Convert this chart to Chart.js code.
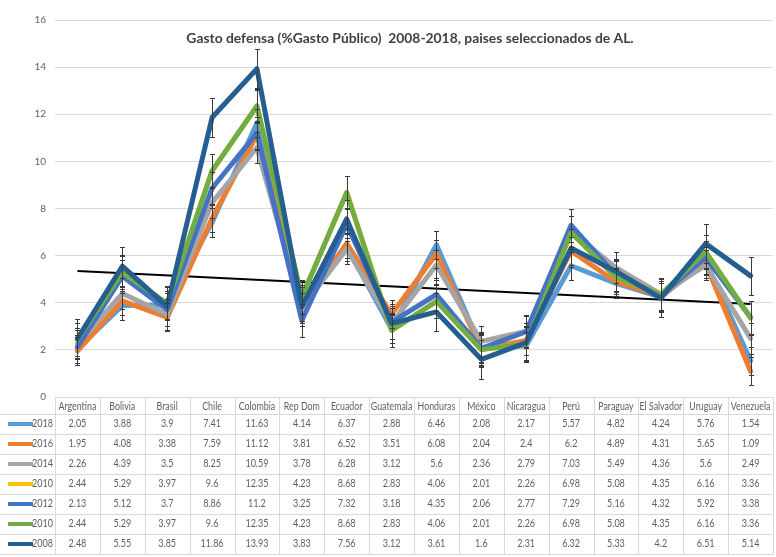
<!DOCTYPE html>
<html>
<head>
<meta charset="utf-8">
<script src="https://cdn.jsdelivr.net/npm/chart.js@4.4.1/dist/chart.umd.min.js"></script>
<style>
  html, body { margin: 0; padding: 0; background: #ffffff; }
  #wrap { width: 776px; height: 557px; }
</style>
</head>
<body>
<div id="wrap"><canvas id="c" width="776" height="557"></canvas></div>
<script>
// Categories (countries) and tick values
const countries = ['Argentina', 'Bolivia', 'Brasil', 'Chile', 'Colombia', 'Rep Dom', 'Ecuador', 'Guatemala',
  'Honduras', 'México', 'Nicaragua', 'Perú', 'Paraguay', 'El Salvador', 'Uruguay', 'Venezuela'];
const yTicks = [0, 2, 4, 6, 8, 10, 12, 14, 16];

// Series labels as they appear in the data table
const seriesLabels = ['2018', '2016', '2014', '2010', '2012', '2010', '2008'];

// Defence spending as % of public spending
const s2018 = [2.05, 3.88, 3.9, 7.41, 11.63, 4.14, 6.37, 2.88, 6.46, 2.08, 2.17, 5.57, 4.82, 4.24, 5.76, 1.54];
const s2016 = [1.95, 4.08, 3.38, 7.59, 11.12, 3.81, 6.52, 3.51, 6.08, 2.04, 2.4, 6.2, 4.89, 4.31, 5.65, 1.09];
const s2014 = [2.26, 4.39, 3.5, 8.25, 10.59, 3.78, 6.28, 3.12, 5.6, 2.36, 2.79, 7.03, 5.49, 4.36, 5.6, 2.49];
const s2010a = [2.44, 5.29, 3.97, 9.6, 12.35, 4.23, 8.68, 2.83, 4.06, 2.01, 2.26, 6.98, 5.08, 4.35, 6.16, 3.36];
const s2012 = [2.13, 5.12, 3.7, 8.86, 11.2, 3.25, 7.32, 3.18, 4.35, 2.06, 2.77, 7.29, 5.16, 4.32, 5.92, 3.38];
const s2010b = [2.44, 5.29, 3.97, 9.6, 12.35, 4.23, 8.68, 2.83, 4.06, 2.01, 2.26, 6.98, 5.08, 4.35, 6.16, 3.36];
const s2008 = [2.48, 5.55, 3.85, 11.86, 13.93, 3.83, 7.56, 3.12, 3.61, 1.6, 2.31, 6.32, 5.33, 4.2, 6.51, 5.14];

// Error bar half-widths per series
const seriesErrors = [0.6, 0.6, 0.65, 0.7, 0.7, 0.72, 0.82];

// Linear trend line end values (first and last country)
const trendStart = 5.35;
const trendEnd = 3.95;

const seriesValues = [s2018, s2016, s2014, s2010a, s2012, s2010b, s2008];
const seriesColors = ['#5B9BD5', '#ED7D31', '#A5A5A5', '#FFC000', '#4472C4', '#70AD47', '#255E91'];

const FONT = 'Lato, "Open Sans", sans-serif';
const TEXT_GREY = '#5f5f5f';
const GRID_GREY = '#D9D9D9';

const datasets = seriesValues.map((vals, i) => ({
  label: seriesLabels[i],
  data: vals,
  borderColor: seriesColors[i],
  backgroundColor: seriesColors[i],
  borderWidth: 5,
  pointRadius: 0,
  tension: 0,
  fill: false,
  borderJoinStyle: 'round',
  borderCapStyle: 'round',
  order: seriesValues.length - i,
  errorBar: seriesErrors[i]
}));

datasets.push({
  label: 'Lineal',
  data: countries.map((_, i) => i === 0 ? trendStart : (i === countries.length - 1 ? trendEnd : null)),
  borderColor: '#000000',
  borderWidth: 2,
  pointRadius: 0,
  spanGaps: true,
  fill: false,
  order: 20
});

// Narrow text: draw with a horizontal squeeze
function narrowText(ctx, text, x, y, squeeze, align) {
  ctx.save();
  ctx.translate(x, y);
  ctx.scale(squeeze, 1);
  ctx.textAlign = align;
  ctx.fillText(text, 0, 0);
  ctx.restore();
}

// Title drawn inside the plot area, error bars, and the data table under the axis
const extras = {
  id: 'extras',
  afterDatasetsDraw(chart) {
    const ctx = chart.ctx;
    const ys = chart.scales.y;
    ctx.save();
    ctx.strokeStyle = '#3a3a3a';
    ctx.lineWidth = 1;
    chart.data.datasets.forEach((ds, di) => {
      if (ds.errorBar === undefined) return;
      const meta = chart.getDatasetMeta(di);
      meta.data.forEach((pt, j) => {
        const v = ds.data[j];
        const yt = Math.round(ys.getPixelForValue(v + ds.errorBar)) + 0.5;
        const yb = Math.round(ys.getPixelForValue(v - ds.errorBar)) + 0.5;
        const x = Math.round(pt.x) + 0.5;
        ctx.beginPath();
        ctx.moveTo(x, yt); ctx.lineTo(x, yb);
        ctx.moveTo(x - 2.5, yt); ctx.lineTo(x + 2.5, yt);
        ctx.moveTo(x - 2.5, yb); ctx.lineTo(x + 2.5, yb);
        ctx.stroke();
      });
    });
    ctx.restore();
  },
  afterDraw(chart) {
    const ctx = chart.ctx;
    const area = chart.chartArea;
    const xs = chart.scales.x;
    const n = countries.length;
    const colW = (area.right - area.left) / n;

    ctx.save();
    // Title
    ctx.fillStyle = '#404040';
    ctx.font = 'bold 14px ' + FONT;
    ctx.textBaseline = 'middle';
    narrowText(ctx, 'Gasto defensa (%Gasto Público)  2008-2018, paises seleccionados de AL.', 410, 38, 0.99, 'center');

    // Data table
    const top = area.bottom;
    const headerH = 17;
    const rowH = 20;
    const tableBottom = top + headerH + rowH * seriesLabels.length;

    ctx.strokeStyle = GRID_GREY;
    ctx.lineWidth = 1;
    ctx.beginPath();
    for (let k = 0; k <= n; k++) {
      const x = Math.round(area.left + k * colW) + 0.5;
      ctx.moveTo(x, top);
      ctx.lineTo(x, tableBottom);
    }
    for (let r = 0; r <= seriesLabels.length; r++) {
      const y = Math.round(top + headerH + r * rowH) + 0.5;
      ctx.moveTo(0, y);
      ctx.lineTo(area.right, y);
    }
    ctx.stroke();

    ctx.fillStyle = TEXT_GREY;
    ctx.font = '10.5px ' + FONT;
    ctx.textBaseline = 'middle';
    countries.forEach((c, j) => {
      narrowText(ctx, c, xs.getPixelForValue(j), top + headerH / 2 + 1, 0.84, 'center');
    });

    seriesLabels.forEach((lab, i) => {
      const yc = top + headerH + rowH * i + rowH / 2;
      // legend key
      ctx.strokeStyle = seriesColors[i];
      ctx.lineWidth = 4;
      ctx.beginPath();
      ctx.moveTo(8, yc);
      ctx.lineTo(33, yc);
      ctx.stroke();
      ctx.fillStyle = TEXT_GREY;
      narrowText(ctx, lab, 53, yc, 0.86, 'right');
      seriesValues[i].forEach((v, j) => {
        narrowText(ctx, String(v), xs.getPixelForValue(j), yc, 0.86, 'center');
      });
    });
    ctx.restore();
  }
};

new Chart(document.getElementById('c'), {
  type: 'line',
  data: { labels: countries, datasets },
  options: {
    responsive: false,
    animation: false,
    devicePixelRatio: 1,
    layout: { padding: { top: 20, bottom: 160, left: 0, right: 3 } },
    plugins: {
      legend: { display: false },
      title: { display: false },
      tooltip: { enabled: false }
    },
    scales: {
      x: {
        type: 'category',
        offset: true,
        grid: { display: false, drawTicks: false },
        border: { display: false },
        ticks: { display: false }
      },
      y: {
        min: 0,
        max: 16,
        afterBuildTicks(scale) { scale.ticks = yTicks.map(v => ({ value: v })); },
        afterFit(scale) { scale.width = 55; },
        grid: { color: GRID_GREY, drawTicks: false },
        border: { display: false },
        ticks: { color: TEXT_GREY, font: { family: FONT, size: 10 }, padding: 9 }
      }
    }
  },
  plugins: [extras]
});
</script>
</body>
</html>
